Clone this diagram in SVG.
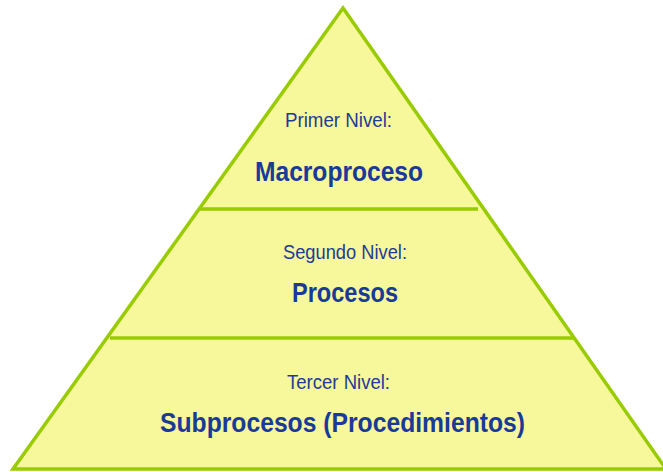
<svg xmlns="http://www.w3.org/2000/svg" width="663" height="472" viewBox="0 0 663 472">
<style>
.tri{fill:#f7f79b;stroke:#99cc00;stroke-width:3.5;stroke-linejoin:miter}
.div{stroke:#99cc00;stroke-width:3.5;fill:none}
.s{font-family:"Liberation Sans",Arial,sans-serif;font-size:21px;fill:#1e3c96;text-anchor:middle}
.b{font-family:"Liberation Sans",Arial,sans-serif;font-size:28px;font-weight:bold;fill:#1a3a99;text-anchor:middle}
</style>
<rect width="663" height="472" fill="#ffffff"/>
<g id="pyramid">
<polygon class="tri" points="343,8 13,469 666,469"/>
</g>
<g id="connectors">
<line class="div" x1="198" y1="209" x2="478" y2="209"/>
<line class="div" x1="110" y1="338" x2="575" y2="338"/>
</g>
<g id="level1">
<text class="s" x="338.5" y="127" textLength="107" lengthAdjust="spacingAndGlyphs">Primer Nivel:</text>
<text class="b" x="339" y="181" textLength="168" lengthAdjust="spacingAndGlyphs">Macroproceso</text>
</g>
<g id="level2">
<text class="s" x="345" y="259" textLength="124" lengthAdjust="spacingAndGlyphs">Segundo Nivel:</text>
<text class="b" x="345" y="302" textLength="106" lengthAdjust="spacingAndGlyphs">Procesos</text>
</g>
<g id="level3">
<text class="s" x="338.5" y="389" textLength="103" lengthAdjust="spacingAndGlyphs">Tercer Nivel:</text>
<text class="b" x="342.5" y="432" textLength="365" lengthAdjust="spacingAndGlyphs">Subprocesos (Procedimientos)</text>
</g>
</svg>
